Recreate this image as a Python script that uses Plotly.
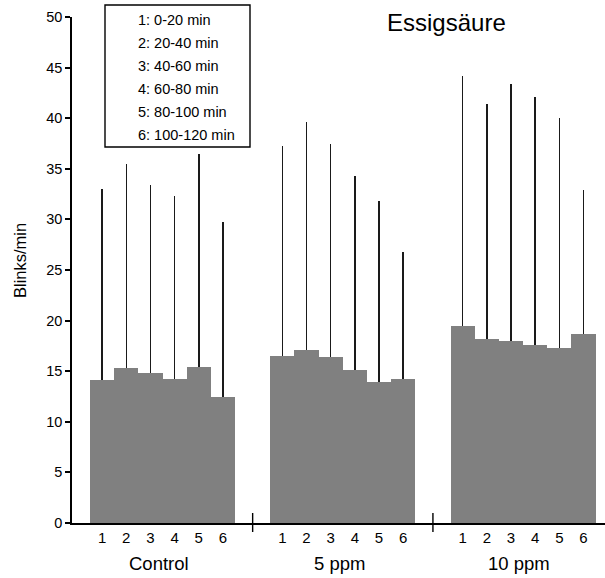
import plotly.graph_objects as go

# ---- data ----
groups = ["Control", "5 ppm", "10 ppm"]
periods = ["1", "2", "3", "4", "5", "6"]
legend_items = ["1: 0-20 min", "2: 20-40 min", "3: 40-60 min",
                "4: 60-80 min", "5: 80-100 min", "6: 100-120 min"]

control_mean = [14.1, 15.3, 14.8, 14.25, 15.45, 12.5]
control_upper = [33.0, 35.5, 33.4, 32.3, 36.5, 29.75]
ppm5_mean = [16.55, 17.05, 16.45, 15.1, 13.9, 14.25]
ppm5_upper = [37.3, 39.65, 37.45, 34.3, 31.8, 26.8]
ppm10_mean = [19.5, 18.15, 18.0, 17.6, 17.3, 18.65]
ppm10_upper = [44.2, 41.4, 43.4, 42.05, 40.0, 32.9]

y_ticks = [0, 5, 10, 15, 20, 25, 30, 35, 40, 45, 50]
title_text = "Essigsäure"
y_label = "Blinks/min"

# ---- layout constants ----
GROUP_STEP = 7.46
FONT = "Liberation Sans, Arial, Helvetica, sans-serif"
BAR_COLOR = "#808080"

means = [control_mean, ppm5_mean, ppm10_mean]
uppers = [control_upper, ppm5_upper, ppm10_upper]

xs, ys, errs, tick_text = [], [], [], []
for g in range(len(groups)):
    for i in range(len(periods)):
        xs.append(g * GROUP_STEP + i)
        ys.append(means[g][i])
        errs.append(uppers[g][i] - means[g][i])
        tick_text.append(periods[i])

fig = go.Figure()
fig.add_trace(go.Bar(
    x=xs, y=ys, width=1.0,
    marker=dict(color=BAR_COLOR, line=dict(width=0)),
    error_y=dict(type="data", symmetric=False, array=errs,
                 arrayminus=[0] * len(errs), width=0, thickness=1.5,
                 color="#1a1a1a"),
    showlegend=False, hoverinfo="skip",
))

PLOT_H = 506.0
PLOT_W = 533.0
TOP_PX = 17.0

def py2paper(py):
    return (TOP_PX + PLOT_H - py) / PLOT_H

def px2paper(px):
    return (px - 72) / PLOT_W

shapes = []
# axis break marks between groups
for g in range(len(groups) - 1):
    xb = g * GROUP_STEP + 5.5 + (GROUP_STEP - 6) / 2
    shapes.append(dict(type="line", xref="x", yref="paper",
                       x0=xb, x1=xb, y0=-9 / PLOT_H, y1=10 / PLOT_H,
                       line=dict(color="black", width=1.4)))

# legend box
box_l, box_r, box_t, box_b = 105, 250, 5, 147
shapes.append(dict(type="rect", xref="paper", yref="paper",
                   x0=px2paper(box_l), x1=px2paper(box_r),
                   y0=py2paper(box_b), y1=py2paper(box_t),
                   line=dict(color="black", width=1.4), fillcolor="white"))

annotations = []
for i, txt in enumerate(legend_items):
    annotations.append(dict(text=txt, xref="paper", yref="paper",
                            x=px2paper(136), y=py2paper(20 + 23 * i),
                            xanchor="left", yanchor="middle", align="left",
                            showarrow=False,
                            font=dict(family=FONT, size=14.5, color="black")))

annotations.append(dict(text=title_text, xref="paper", yref="paper",
                        x=px2paper(385), y=py2paper(22), xanchor="left",
                        yanchor="middle", align="left", showarrow=False,
                        font=dict(family=FONT, size=24, color="black")))

annotations.append(dict(text=y_label, xref="paper", yref="paper",
                        x=px2paper(20), y=py2paper(261), xanchor="center",
                        yanchor="middle", textangle=-90, showarrow=False,
                        font=dict(family=FONT, size=16.5, color="black")))

for g, name in enumerate(groups):
    annotations.append(dict(text=name, xref="x", yref="paper",
                            x=g * GROUP_STEP + 2.35, y=py2paper(563),
                            xanchor="center", yanchor="middle", showarrow=False,
                            font=dict(family=FONT, size=18.5, color="black")))

fig.update_layout(
    width=605, height=578,
    margin=dict(l=72, r=0, t=17, b=55, pad=0),
    plot_bgcolor="white", paper_bgcolor="white",
    font=dict(family=FONT, color="black"),
    bargap=0,
    shapes=shapes,
    annotations=annotations,
    xaxis=dict(range=[-1.245, 20.81], showline=True, linecolor="black",
               linewidth=1.5, showgrid=False, zeroline=False, ticks="",
               tickvals=xs, ticktext=tick_text,
               tickfont=dict(family=FONT, size=15, color="black")),
    yaxis=dict(range=[0, 50], tickvals=y_ticks, showline=True,
               linecolor="black", linewidth=1.5, ticks="outside", ticklen=5,
               tickwidth=1.5, tickcolor="black", showgrid=False,
               zeroline=False,
               tickfont=dict(family=FONT, size=14.5, color="black")),
)

fig.write_html(
    "out.html",
    config={"displayModeBar": False},
    post_script="document.body.style.margin='0';document.body.style.overflow='hidden';",
)
